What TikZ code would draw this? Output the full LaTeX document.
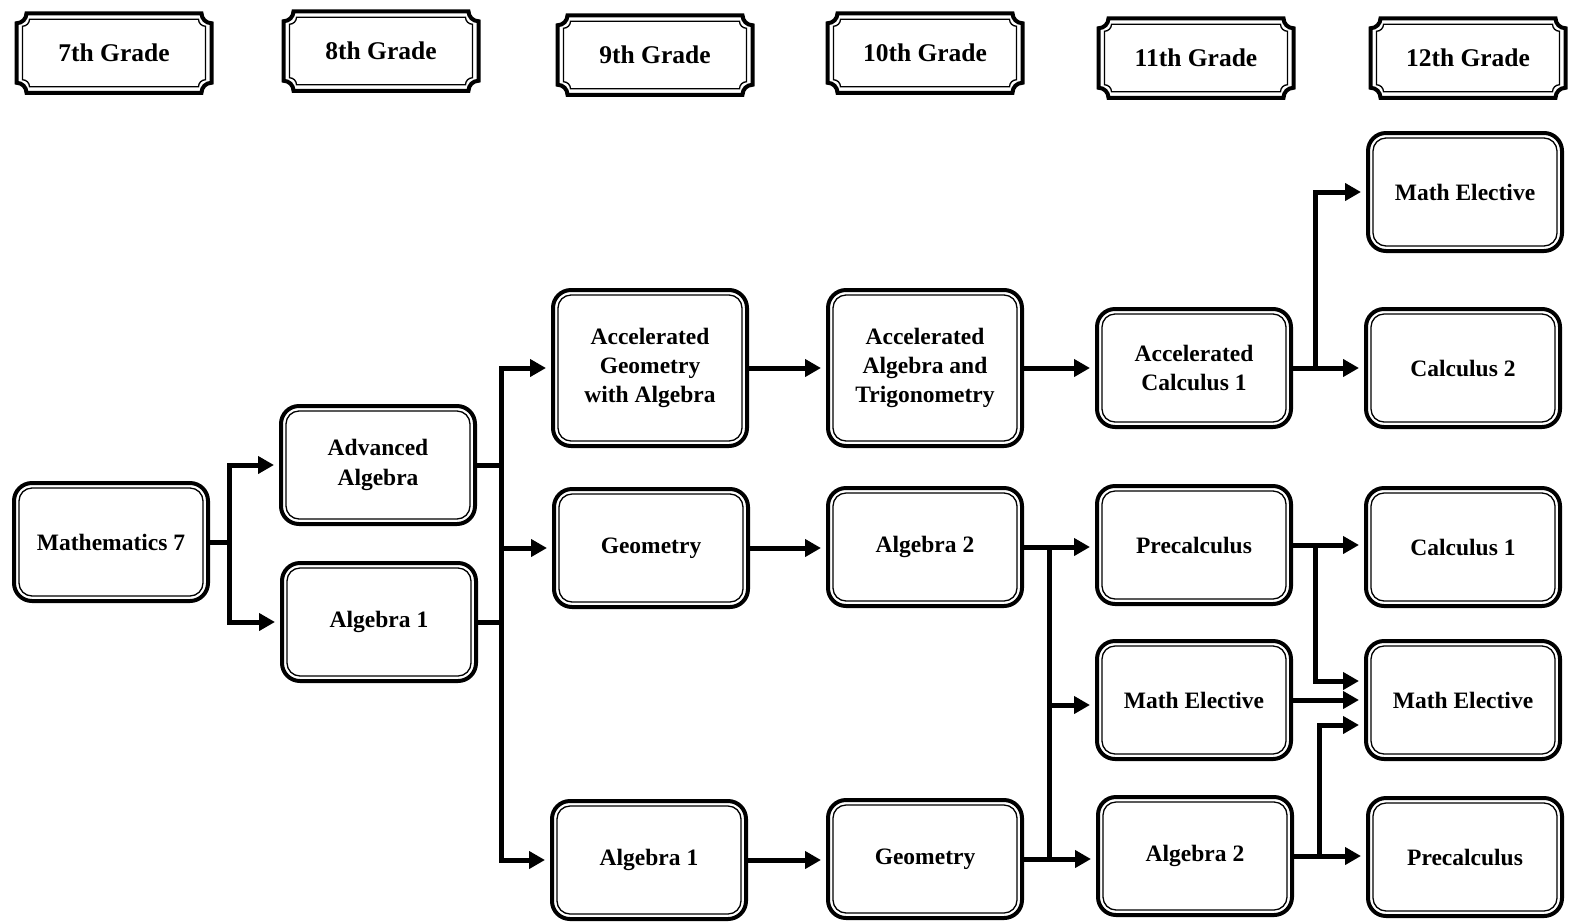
\documentclass[tikz,border=0pt]{standalone}
\usepackage{fontspec}
\setmainfont{Liberation Serif}
\usetikzlibrary{arrows.meta}

% plaque outline (concave corners) round a node: node, inset, radius, line width
\newcommand\plaque[4]{%
  \coordinate (pnw) at ([shift={(#2,-#2)}]#1.north west);
  \coordinate (pse) at ([shift={(-#2,#2)}]#1.south east);
  \coordinate (pne) at (pnw -| pse);
  \coordinate (psw) at (pnw |- pse);
  \draw[line width=#4] ([xshift=#3]pnw) -- ([xshift=-#3]pne)
    arc[start angle=180, end angle=270, radius=#3] -- ([yshift=#3]pse)
    arc[start angle=90, end angle=180, radius=#3] -- ([xshift=#3]psw)
    arc[start angle=0, end angle=90, radius=#3] -- ([yshift=-#3]pnw)
    arc[start angle=270, end angle=360, radius=#3] -- cycle;
}

\begin{document}
\begin{tikzpicture}[x=1pt, y=1pt,
    grade/.style  = {minimum width=195pt, minimum height=79.5pt, inner sep=0pt, outer sep=0pt,
                     font=\fontsize{25.5}{30}\selectfont\bfseries},
    course/.style = {draw, line width=4pt, rounded corners=18pt, minimum width=194pt,
                     minimum height=118pt, inner sep=0pt, align=center,
                     font=\fontsize{23.5}{29.2}\selectfont\bfseries,
                     path picture={\draw[line width=1.3pt, rounded corners=13pt]
                       ([shift={(5pt,-5pt)}]path picture bounding box.north west) rectangle
                       ([shift={(-5pt,5pt)}]path picture bounding box.south east);}},
    accel/.style  = {course, minimum height=156pt},
    link/.style   = {line width=5pt},
    conn/.style   = {link, -{Triangle[length=16pt, width=17pt]}, shorten >=5pt}]

  \useasboundingbox (0,0) rectangle (1577,-922);

  % grade headers
  \foreach \g/\x/\y in {7/114/53, 8/381/51, 9/655/55, 10/925/53, 11/1196/58, 12/1468/58}
  {
    \node[grade] (g\g) at (\x,-\y) {\g th Grade};
    \plaque{g\g}{0pt}{10pt}{4pt}
    \plaque{g\g}{6pt}{7pt}{1.3pt}
  }

  % 7th and 8th grade
  \node[course] (m7) at (111,-542) {Mathematics 7};
  \node[course] (aa) at (378,-465) {Advanced\\Algebra};
  \node[course] (a8) at (379,-622) {Algebra 1};

  % 9th grade
  \node[accel]  (ag) at (650,-368) {Accelerated\\Geometry\\with Algebra};
  \node[course] (g9) at (651,-548) {Geometry};
  \node[course] (b9) at (649,-860) {Algebra 1};

  % 10th grade
  \node[accel]  (at)   at (925,-368) {Accelerated\\Algebra and\\Trigonometry};
  \node[course] (al10) at (925,-547) {Algebra 2};
  \node[course] (ge10) at (925,-859) {Geometry};

  % 11th grade
  \node[course] (ac11) at (1194,-368) {Accelerated\\Calculus 1};
  \node[course] (pc11) at (1194,-545) {Precalculus};
  \node[course] (me11) at (1194,-700) {Math Elective};
  \node[course] (al11) at (1195,-856) {Algebra 2};

  % 12th grade
  \node[course] (me12a) at (1465,-192) {Math Elective};
  \node[course] (c2)    at (1463,-368) {Calculus 2};
  \node[course] (c1)    at (1463,-547) {Calculus 1};
  \node[course] (me12)  at (1463,-700) {Math Elective};
  \node[course] (pc12)  at (1465,-857) {Precalculus};

  % junction columns
  \coordinate (j1) at (229,0);
  \coordinate (j2) at (501,0);
  \coordinate (j3) at (1049,0);
  \coordinate (j4) at (1315,0);
  \coordinate (j5) at (1319,0);

  % 7th -> 8th
  \draw[conn] (m7.east) -- (m7.east -| j1) |- (aa.west);
  \draw[conn] (m7.east -| j1) |- (a8.west);

  % 8th -> 9th
  \draw[conn] (aa.east) -- (aa.east -| j2) |- (ag.west);
  \draw[conn] (aa.east -| j2) |- (g9.west);
  \draw[conn] (a8.east) -- (a8.east -| j2) |- (b9.west);
  \draw[link] (a8.east -| j2) -- (g9.west -| j2);

  % 9th -> 10th
  \draw[conn] (ag.east) -- (ag.east -| at.west);
  \draw[conn] (g9.east) -- (g9.east -| al10.west);
  \draw[conn] (b9.east) -- (b9.east -| ge10.west);

  % 10th -> 11th
  \draw[conn] (at.east) -- (at.east -| ac11.west);
  \draw[conn] (al10.east) -- (al10.east -| pc11.west);
  \draw[conn] (ge10.east) -- (ge10.east -| al11.west);
  \draw[link] (al10.east -| j3) -- (ge10.east -| j3);
  \draw[conn] (al10.east -| j3) |- ([yshift=-5pt]me11.west);

  % 11th -> 12th
  \draw[conn] (ac11.east) -- (ac11.east -| c2.west);
  \draw[conn] (ac11.east -| j4) |- (me12a.west);
  \draw[conn] (pc11.east) -- (pc11.east -| c1.west);
  \draw[conn] (pc11.east -| j4) |- ([yshift=19pt]me12.west);
  \draw[conn] (me11.east) -- (me11.east -| me12.west);
  \draw[conn] (al11.east) -- (al11.east -| pc12.west);
  \draw[conn] (al11.east -| j5) |- ([yshift=-25pt]me12.west);
\end{tikzpicture}
\end{document}
